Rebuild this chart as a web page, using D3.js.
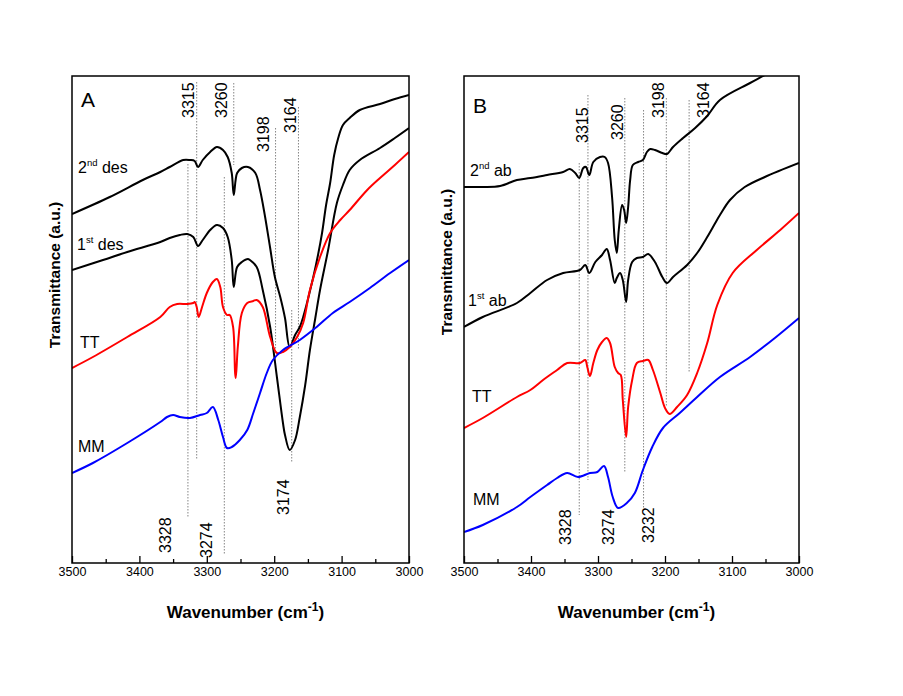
<!DOCTYPE html>
<html><head><meta charset="utf-8">
<script src="https://cdn.jsdelivr.net/npm/d3@7"></script>
<style>body{margin:0;background:#fff;} text{font-family:"Liberation Sans",Arial,Helvetica,sans-serif;}</style>
</head><body>
<svg id="chart" width="903" height="696"></svg>
<script>
// ---------- Data (wavenumber in cm-1, transmittance in a.u.) ----------
// Panel A
const A_des2_wn  = [3500,3444,3395,3369,3355,3335,3325,3318,3313,3306,3295,3285,3276,3269,3263,3260,3255,3248,3239,3228,3221,3214,3206,3199,3191,3184,3177,3169,3162,3157,3142,3135,3129,3123,3117,3111,3105,3098,3088,3073,3043,3021,3000];
const A_des2_val = [349,366,383,391,396,403,403,402,396,403,411,416,413,406,390,368,390,395,396,390,373,348,315,286,266,245,216,228,236,246,286,308,330,358,380,408,425,438,445,453,459,464,468];

const A_des1_wn  = [3500,3454,3418,3369,3355,3340,3329,3320,3313,3306,3295,3285,3276,3269,3263,3260,3255,3248,3239,3236,3226,3217,3206,3196,3187,3184,3177,3169,3162,3154,3147,3139,3132,3120,3107,3098,3088,3073,3043,3021,3000];
const A_des1_val = [293,303,311,321,325,328,329,326,317,323,333,338,335,326,303,276,296,301,304,303,296,273,236,186,140,128,113,123,146,178,213,245,273,313,360,378,393,403,415,425,435];

const A_TT_wn  = [3500,3469,3418,3369,3355,3344,3329,3320,3318,3315,3312,3307,3300,3291,3285,3280,3276,3270,3266,3261,3258,3257,3254,3248,3240,3231,3226,3217,3206,3196,3187,3177,3166,3157,3147,3132,3117,3102,3088,3062,3043,3021,3000];
const A_TT_val = [195,206,226,246,256,259,259,260,261,256,246,256,270,281,284,276,256,248,248,236,190,185,216,250,260,262,263,256,226,210,211,216,226,240,273,306,330,343,353,373,385,398,411];

const A_MM_wn  = [3500,3469,3418,3369,3359,3350,3340,3325,3310,3300,3291,3283,3276,3270,3263,3251,3240,3231,3221,3211,3202,3187,3162,3137,3113,3088,3058,3028,3000];
const A_MM_val = [90,100,120,141,146,148,146,145,148,150,156,143,126,115,116,123,133,150,170,190,203,213,223,236,250,261,275,290,303];

// Panel B
const B_ab2_wn  = [3500,3472,3446,3421,3401,3376,3352,3342,3334,3328,3322,3318,3313,3307,3297,3290,3285,3279,3275,3272,3269,3264,3261,3258,3255,3252,3248,3240,3233,3227,3222,3215,3204,3197,3188,3173,3155,3137,3118,3073,3051,3028];
const B_ab2_val = [376,376,377,383,385,388,391,394,390,385,395,396,388,401,406,406,400,366,323,310,333,358,353,340,356,383,398,401,403,411,414,413,410,409,416,425,435,447,463,480,488,497];

const B_ab1_wn  = [3500,3472,3421,3401,3376,3352,3327,3319,3313,3304,3294,3287,3282,3275,3272,3267,3263,3258,3255,3249,3242,3233,3225,3215,3204,3197,3188,3167,3152,3137,3125,3118,3103,3081,3051,3000];
const B_ab1_val = [236,246,260,270,283,290,293,298,290,301,308,314,303,280,285,290,283,261,283,301,305,306,309,301,286,280,286,298,310,326,340,348,363,376,386,400];

const B_TT_wn  = [3500,3472,3421,3401,3382,3361,3346,3327,3319,3316,3312,3307,3301,3294,3287,3282,3275,3270,3266,3263,3258,3255,3249,3242,3233,3225,3218,3207,3200,3193,3182,3167,3152,3137,3122,3099,3063,3028,3000];
const B_TT_val = [135,145,166,173,183,193,200,200,203,196,187,200,213,221,225,220,196,190,188,163,126,156,183,200,202,203,193,170,155,149,156,168,190,220,258,290,313,333,350];

const B_MM_wn  = [3500,3472,3421,3401,3376,3361,3346,3330,3312,3301,3291,3285,3278,3270,3257,3245,3233,3219,3203,3178,3152,3118,3073,3036,3000];
const B_MM_val = [31,38,56,66,78,85,90,86,90,91,97,86,66,55,60,70,93,116,135,150,166,186,206,225,245];

// Tick values
const majorTicks = [3500,3400,3300,3200,3100,3000];
const minorTicks = [3450,3350,3250,3150,3050];

// Peak markers: wavenumber, top & bottom (a.u.) of dotted guide
const A_marks = [[3315,481,103],[3260,480,398],[3198,435,213],[3164,456,213],[3328,399,46],[3274,386,8],[3174,253,101]];
const B_marks = [[3328,400,48],[3315,468,83],[3260,465,90],[3232,453,51],[3198,465,156],[3164,463,190]];

// Peak labels: text, baseline wavenumber, start (a.u.)
const A_peakLabels = [["3315",3319,445],["3260",3270,445],["3198",3208,411],["3164",3168,430],["3328",3353,10],["3274",3292,5],["3174",3178,48]];
const B_peakLabels = [["3315",3315,420],["3260",3263,423],["3198",3201,445],["3164",3134,445],["3328",3340,18],["3274",3276,18],["3232",3216,20]];

// ---------- Drawing ----------
const svg = d3.select("#chart");
const plotTop = 76, plotBottom = 563;

function zip(w, v){ return w.map((d,i)=>[d, v[i]]); }

function panel(cfg){
  const x = d3.scaleLinear().domain([3500,3000]).range([cfg.left, cfg.right]);
  const y = d3.scaleLinear().domain([0,487]).range([plotBottom, plotTop]);
  const g = svg.append("g");
  const clipId = "clip" + cfg.letter;
  g.append("clipPath").attr("id", clipId).append("rect")
    .attr("x", cfg.left).attr("y", plotTop).attr("width", cfg.right-cfg.left).attr("height", plotBottom-plotTop);

  // dotted guides
  g.selectAll(".guide").data(cfg.marks).enter().append("line")
    .attr("x1", d=>x(d[0])).attr("x2", d=>x(d[0]))
    .attr("y1", d=>y(d[1])).attr("y2", d=>y(d[2]))
    .attr("stroke", "#666").attr("stroke-width", 0.8).attr("stroke-dasharray", "1.5,1.5");

  // curves
  const line = d3.line().x(d=>x(d[0])).y(d=>y(d[1])).curve(d3.curveCatmullRom.alpha(0.5));
  const lg = g.append("g").attr("clip-path", `url(#${clipId})`);
  cfg.series.forEach(s=>{
    lg.append("path").datum(zip(s.wn, s.val)).attr("d", line)
      .attr("fill","none").attr("stroke", s.color).attr("stroke-width", 2)
      .attr("stroke-linejoin","round");
  });

  // frame
  g.append("rect").attr("x", cfg.left).attr("y", plotTop)
    .attr("width", cfg.right-cfg.left).attr("height", plotBottom-plotTop)
    .attr("fill","none").attr("stroke","#000").attr("stroke-width",1.5);

  // axes
  const ax = g.append("g").attr("transform", `translate(0,${plotBottom})`)
    .call(d3.axisBottom(x).tickValues(majorTicks).tickSize(-7).tickPadding(4).tickFormat(d3.format("d")));
  ax.select(".domain").remove();
  ax.selectAll("line").attr("stroke","#000").attr("stroke-width",1.3);
  ax.selectAll("text").attr("font-size", 12.5).attr("fill","#000")
    .style("font-family",'"Liberation Sans",Arial,sans-serif');
  const axm = g.append("g").attr("transform", `translate(0,${plotBottom})`)
    .call(d3.axisBottom(x).tickValues(minorTicks).tickSize(-4).tickFormat(""));
  axm.select(".domain").remove();
  axm.selectAll("line").attr("stroke","#000").attr("stroke-width",1.3);

  // x title
  const cx = (cfg.left + cfg.right)/2 + 5;
  const xt = g.append("text").attr("x", cx).attr("y", 618).attr("text-anchor","middle")
    .attr("font-size", 17).attr("font-weight","bold");
  xt.append("tspan").text("Wavenumber (cm");
  xt.append("tspan").attr("font-size", 12).attr("dy", -7).text("-1");
  xt.append("tspan").attr("dy", 7).text(")");

  // y title
  g.append("text").attr("transform", `translate(${cfg.ytx},${cfg.yty}) rotate(-90)`)
    .attr("text-anchor","middle").attr("font-size", 15.5).attr("font-weight","bold")
    .text("Transmittance (a.u.)");

  // panel letter
  g.append("text").attr("x", cfg.left + 9).attr("y", cfg.letterY).attr("font-size", 21).text(cfg.letter);

  // peak labels (rotated)
  g.selectAll(".pl").data(cfg.peakLabels).enter().append("text")
    .attr("transform", d=>`translate(${x(d[1])},${y(d[2])}) rotate(-90)`)
    .attr("font-size", 16).attr("fill","#000").text(d=>d[0]);

  // series labels
  cfg.series.forEach(s=>{
    const t = g.append("text").attr("x", cfg.left + s.lx).attr("y", y(s.ly)).attr("font-size", 16);
    t.append("tspan").text(s.label[0]);
    if (s.label[1]) {
      t.append("tspan").attr("font-size", 9.5).attr("dy", -7).text(s.label[1]);
      t.append("tspan").attr("dy", 7).text(" " + s.label[2]);
    }
  });
}

panel({letter:"A", left:72, right:409, letterY:107, ytx:60, yty:275,
  marks:A_marks, peakLabels:A_peakLabels,
  series:[
    {wn:A_des2_wn, val:A_des2_val, color:"#000", label:["2","nd","des"], lx:6, ly:390},
    {wn:A_des1_wn, val:A_des1_val, color:"#000", label:["1","st","des"], lx:5, ly:313},
    {wn:A_TT_wn, val:A_TT_val, color:"#ff0000", label:["TT"], lx:8, ly:215},
    {wn:A_MM_wn, val:A_MM_val, color:"#0000ff", label:["MM"], lx:6, ly:111}
  ]});

panel({letter:"B", left:464, right:799, letterY:113, ytx:452, yty:262,
  marks:B_marks, peakLabels:B_peakLabels,
  series:[
    {wn:B_ab2_wn, val:B_ab2_val, color:"#000", label:["2","nd","ab"], lx:6, ly:387},
    {wn:B_ab1_wn, val:B_ab1_val, color:"#000", label:["1","st","ab"], lx:4, ly:257},
    {wn:B_TT_wn, val:B_TT_val, color:"#ff0000", label:["TT"], lx:8, ly:161},
    {wn:B_MM_wn, val:B_MM_val, color:"#0000ff", label:["MM"], lx:9, ly:58}
  ]});
</script></body></html>
